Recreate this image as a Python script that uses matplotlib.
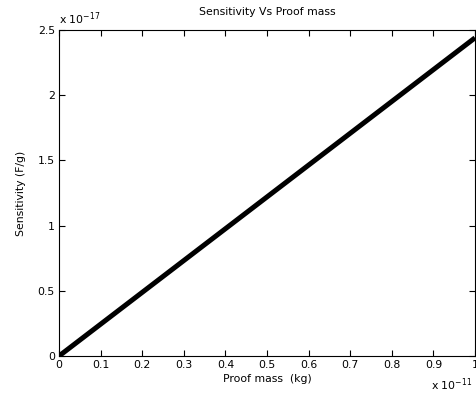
import matplotlib
matplotlib.use("Agg")
import matplotlib.pyplot as plt
from matplotlib.ticker import FuncFormatter

plt.rcParams['font.family'] = ['DejaVu Sans']

# data (kg, F/g)
proof_mass = [0.0, 0.25e-11, 0.5e-11, 0.75e-11, 1.0e-11]
sensitivity = [0.0, 0.61e-17, 1.22e-17, 1.83e-17, 2.44e-17]

x_scale = 1e-11
y_scale = 1e-17
x_ticks = [0, 0.1, 0.2, 0.3, 0.4, 0.5, 0.6, 0.7, 0.8, 0.9, 1]
y_ticks = [0, 0.5, 1, 1.5, 2, 2.5]

fs = 7.8
fig = plt.figure(figsize=(4.77, 3.98), dpi=100)
ax = fig.add_axes([0.1237, 0.1055, 0.9958 - 0.1237, 0.9246 - 0.1055])

ax.plot(proof_mass, sensitivity, color='black', linewidth=3.6, solid_capstyle='butt')
ax.set_xlim(0, 1e-11)
ax.set_ylim(0, 2.5e-17)
ax.set_xticks([t * x_scale for t in x_ticks])
ax.set_yticks([t * y_scale for t in y_ticks])
ax.xaxis.set_major_formatter(FuncFormatter(lambda v, p: ('%g' % round(v / x_scale, 3))))
ax.yaxis.set_major_formatter(FuncFormatter(lambda v, p: ('%g' % round(v / y_scale, 3))))

ax.tick_params(direction='in', length=4, width=0.8, labelsize=fs, color='black',
               top=True, right=True, pad=3)
for s in ax.spines.values():
    s.set_linewidth(0.8)

ax.set_title('Sensitivity Vs Proof mass', fontsize=fs, pad=11)
ax.set_xlabel('Proof mass  (kg)', fontsize=fs, labelpad=3)
ax.set_ylabel('Sensitivity (F/g)', fontsize=fs, labelpad=8)

fig.text(0.1237, 0.933, r'x 10$^{-17}$', fontsize=fs, ha='left', va='bottom')
fig.text(0.99, 0.012, r'x 10$^{-11}$', fontsize=fs, ha='right', va='bottom')

fig.savefig('out.png', dpi=100)
